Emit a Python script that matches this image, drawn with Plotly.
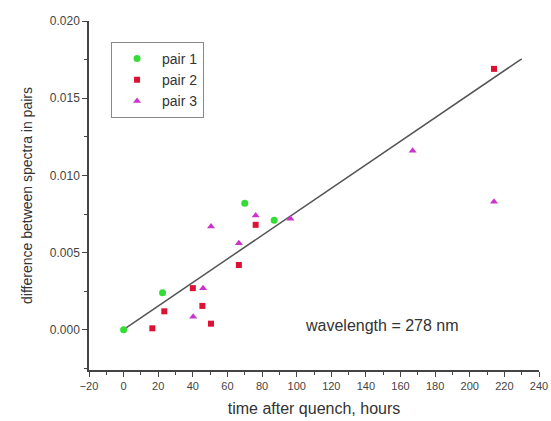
import plotly.graph_objects as go

# pair 1 (green)
p1_x = [0, 22.5, 70, 87]
p1_y = [0.0, 0.0024, 0.0082, 0.0071]
# pair 2 (red)
p2_x = [16.6, 23.5, 40, 45.5, 50.5, 66.6, 76.3, 214]
p2_y = [0.0001, 0.0012, 0.0027, 0.00155, 0.0004, 0.0042, 0.0068, 0.0169]
# pair 3 (magenta)
p3_x = [40.2, 45.9, 50.5, 66.6, 76.3, 96.4, 167, 214]
p3_y = [0.00085, 0.0027, 0.0067, 0.0056, 0.0074, 0.0072, 0.0116, 0.0083]
# linear fit line
fit_x = [1, 230]
fit_y = [0.0001, 0.01755]

x_ticks = [-20, 0, 20, 40, 60, 80, 100, 120, 140, 160, 180, 200, 220, 240]
y_ticks = [0.000, 0.005, 0.010, 0.015, 0.020]

fig = go.Figure()
fig.add_trace(go.Scatter(x=fit_x, y=fit_y, mode="lines",
                         line=dict(color="#555555", width=1.5), showlegend=False))
fig.add_trace(go.Scatter(x=p1_x, y=p1_y, mode="markers", name="pair 1",
                         marker=dict(symbol="circle", size=7, color="#33dd33")))
fig.add_trace(go.Scatter(x=p2_x, y=p2_y, mode="markers", name="pair 2",
                         marker=dict(symbol="square", size=6, color="#dd1133")))
fig.add_trace(go.Scatter(x=p3_x, y=p3_y, mode="markers", name="pair 3",
                         marker=dict(symbol="triangle-up", size=7, color="#cc33cc")))

fig.add_annotation(x=149, y=0.0003, text="wavelength = 278 nm", showarrow=False,
                   font=dict(size=16, color="#333333"))

x_font = dict(family="Arial, Liberation Sans, sans-serif", size=11, color="#444444")
y_font = dict(family="Arial, Liberation Sans, sans-serif", size=12, color="#444444")
fig.update_layout(
    width=551, height=421,
    margin=dict(l=89, r=12, t=21, b=51),
    paper_bgcolor="white", plot_bgcolor="white",
    font=dict(family="Arial, Liberation Sans, sans-serif", color="#333333"),
    legend=dict(x=0.049, y=0.94, xanchor="left", yanchor="top",
                bordercolor="#888888", borderwidth=1, bgcolor="white",
                font=dict(size=14), itemsizing="trace", itemwidth=40),
    xaxis=dict(range=[-20, 240], tickvals=x_ticks, ticks="outside", ticklen=5,
               showline=True, linecolor="#444444", linewidth=1.5, showgrid=False,
               zeroline=False, tickfont=x_font, tickcolor="#444444", automargin=False,
               ticklabeloverflow="allow",
               minor=dict(ticks="outside", dtick=10, ticklen=3, tickcolor="#444444"),
               title=dict(text="time after quench, hours", font=dict(size=16), standoff=12)),
    yaxis=dict(range=[-0.0026, 0.020], tickvals=y_ticks, tickformat=".3f",
               ticks="outside", ticklen=5,
               showline=True, linecolor="#444444", linewidth=1.5, showgrid=False,
               zeroline=False, tickfont=y_font, tickcolor="#444444", automargin=False,
               minor=dict(ticks="outside", dtick=0.0025, ticklen=3, tickcolor="#444444"),
               title=dict(text="difference between spectra in pairs", font=dict(size=14), standoff=14)),
)
fig.write_html(
    "out.html",
    config={"displayModeBar": False},
    post_script="document.body.style.margin='0';document.documentElement.style.overflow='hidden';",
)
